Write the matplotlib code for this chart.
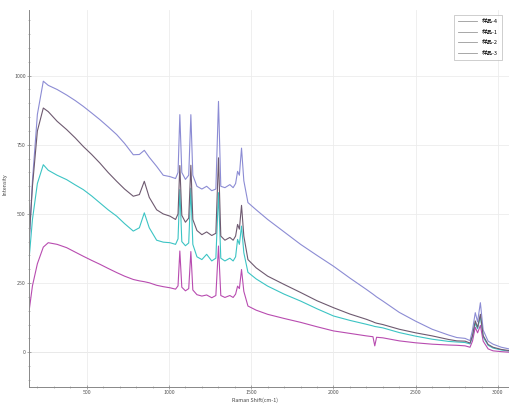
import matplotlib.pyplot as plt
from matplotlib.ticker import MultipleLocator

plt.rcParams['font.family'] = ['Noto Sans CJK SC', 'DejaVu Sans']

# Raman shift positions (cm-1), shared by all four spectra
shift = [151, 170, 200, 236, 266, 320, 378, 430, 479, 530, 580, 630, 682, 730, 783, 820, 850, 880,
         925, 965, 1006, 1040, 1055, 1066, 1078, 1100, 1120, 1133, 1145, 1170, 1200, 1229, 1260,
         1285, 1301, 1315, 1340, 1370, 1390, 1405, 1417, 1428, 1441, 1455, 1480, 1530, 1600, 1700,
         1800, 1900, 2000, 2100, 2200, 2240, 2251, 2262, 2300, 2400, 2500, 2600, 2700, 2750, 2800,
         2830, 2845, 2862, 2876, 2893, 2910, 2940, 2970, 3020, 3067]

s4 = [347, 480, 610, 678, 658, 640, 624, 605, 588, 565, 540, 515, 492, 465, 438, 450, 504, 450,
      405, 398, 396, 390, 410, 588, 400, 385, 395, 593, 390, 345, 335, 354, 330,
      340, 577, 340, 330, 340, 330, 345, 408, 390, 456, 360, 289, 265, 239, 210,
      185, 157, 131, 115, 101, 95, 93, 92, 88, 71, 58, 47, 39, 37, 35,
      30, 55, 105, 85, 130, 55, 25, 15, 8, 4]

s1 = [155, 240, 320, 380, 396, 390, 378, 362, 347, 332, 318, 303, 288, 275, 263, 258, 255, 251,
      242, 237, 233, 228, 240, 366, 235, 222, 230, 364, 225, 208, 203, 207, 197,
      205, 384, 205, 198, 205, 198, 210, 239, 230, 299, 220, 167, 152, 137, 122,
      108, 92, 77, 68, 59, 56, 23, 54, 52, 41, 34, 29, 26, 25, 23,
      18, 40, 90, 70, 97, 40, 12, 5, 2, 0]

s2 = [400, 620, 860, 980, 965, 950, 930, 910, 889, 865, 841, 815, 787, 755, 714, 715, 730, 705,
      672, 640, 635, 628, 650, 859, 650, 625, 640, 859, 640, 600, 590, 600, 584,
      590, 907, 600, 595, 606, 595, 610, 654, 640, 738, 620, 541, 515, 480, 435,
      390, 350, 311, 268, 227, 210, 205, 200, 185, 144, 112, 83, 62, 53, 50,
      42, 80, 143, 110, 179, 80, 40, 29, 18, 12]

s3 = [420, 600, 800, 883, 870, 835, 805, 775, 744, 715, 684, 650, 618, 590, 564, 570, 618, 560,
      515, 500, 492, 480, 500, 675, 495, 470, 485, 676, 480, 440, 425, 435, 422,
      430, 703, 420, 405, 415, 405, 420, 462, 445, 531, 420, 335, 305, 275, 245,
      216, 186, 161, 138, 119, 110, 107, 105, 100, 83, 70, 59, 46, 41, 40,
      33, 60, 113, 90, 137, 60, 28, 18, 10, 6]

labels = ['样品-4', '样品-1', '样品-2', '样品-3']
colors = ['#3cc4c4', '#b84cb0', '#8c8cd4', '#6e5a70']

fig = plt.figure(figsize=(5.09, 4.05), dpi=100)
ax = fig.add_axes([0.0576, 0.045, 0.9424, 0.93])

for ys, lab, c in zip([s4, s1, s2, s3], labels, colors):
    ax.plot(shift, ys, color=c, lw=0.8, label=lab)

ax.set_xlim(151, 3067)
ax.set_ylim(-125, 1237)
ax.xaxis.set_major_locator(MultipleLocator(500))
ax.xaxis.set_minor_locator(MultipleLocator(100))
ax.yaxis.set_major_locator(MultipleLocator(250))
ax.yaxis.set_minor_locator(MultipleLocator(50))
ax.grid(True, which='major', color='#ececec', lw=0.6)
ax.axhline(0, color='#d8d8d8', lw=0.6, zorder=0)

for side in ['top', 'right']:
    ax.spines[side].set_visible(False)
for side in ['left', 'bottom']:
    ax.spines[side].set_color('#888888')
    ax.spines[side].set_linewidth(0.7)

ax.tick_params(which='both', direction='inout', colors='#888888', labelsize=3.8, labelcolor='#555555', pad=1)
ax.tick_params(which='major', length=3, width=0.5)
ax.tick_params(which='minor', length=1.5, width=0.4)

ax.set_xlabel('Raman Shift(cm-1)', fontsize=3.8, color='#444444')
ax.set_ylabel('Intensity', fontsize=3.8, color='#444444')
ax.xaxis.set_label_coords(0.47, -0.028)
ax.yaxis.set_label_coords(-0.045, 0.538)

leg = ax.legend(loc='upper right', bbox_to_anchor=(0.992, 0.995), fontsize=4, handlelength=3.5,
                frameon=True, fancybox=False, edgecolor='#aaaaaa', borderpad=0.8, labelspacing=1.0)
leg.get_frame().set_linewidth(0.5)
for line in leg.get_lines():
    line.set_color('#999999')
    line.set_linewidth(0.6)

fig.savefig('out.png', dpi=100)
